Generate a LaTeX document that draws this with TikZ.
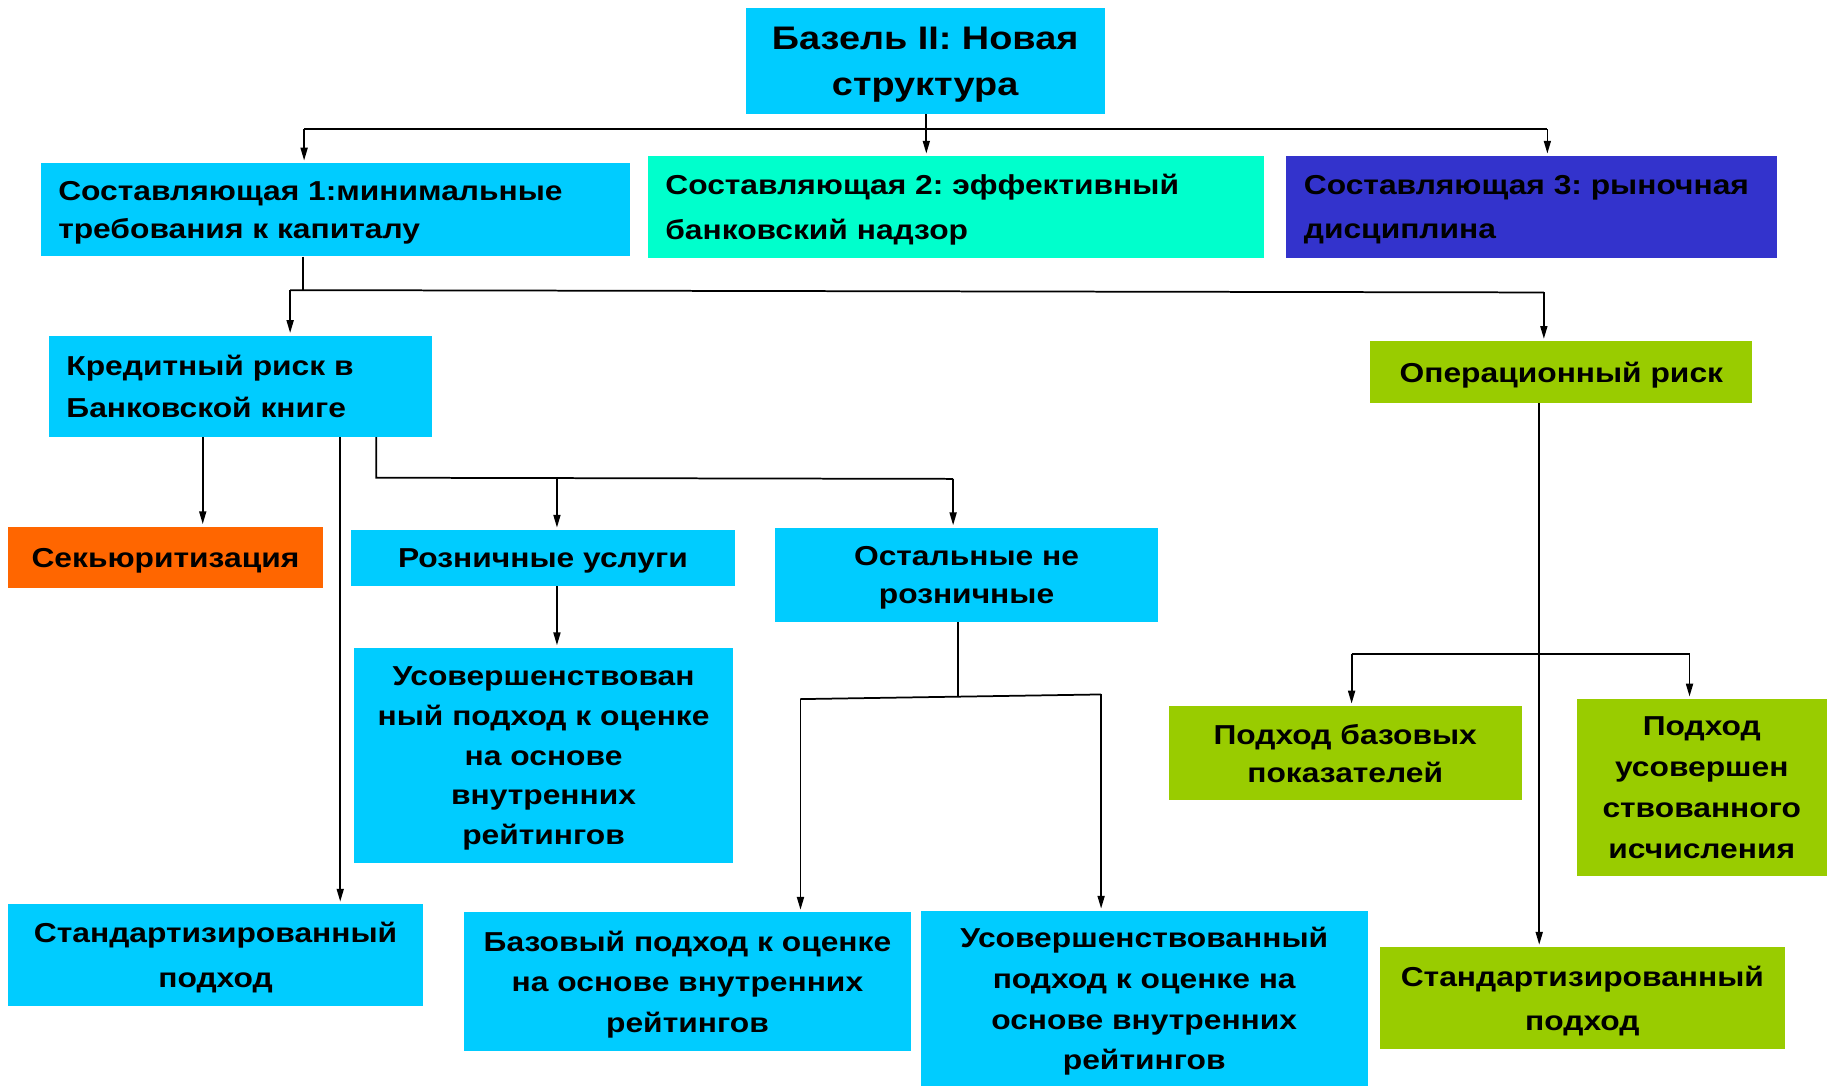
\documentclass[tikz,border=0pt]{standalone}
\usepackage{fontspec}
\setmainfont{Liberation Sans}[FakeStretch=1.16]
\usetikzlibrary{arrows.meta}
\definecolor{cyanbox}{HTML}{00CCFF}
\definecolor{aquabox}{HTML}{00FFCC}
\definecolor{indigobox}{HTML}{3333CC}
\definecolor{limebox}{HTML}{99CC00}
\definecolor{orangebox}{HTML}{FF6600}
\tikzset{
  box/.style={inner sep=0pt, align=center, text=black, anchor=center, text depth=0pt},
  lbox/.style={inner ysep=0pt, inner xsep=15pt, align=left, text=black, anchor=center, text depth=0pt},
  conn/.style={line width=1.5pt, draw=black},
  arr/.style={conn, -{Triangle[length=11pt,width=6pt]}, shorten >=2pt}
}
\newcommand{\fs}[1]{\bfseries\fontsize{23.5}{#1}\selectfont}
\newcommand{\padl}[2]{\makebox[#1][l]{#2}}
\frenchspacing
\begin{document}
\begin{tikzpicture}[x=1pt,y=-1pt]
\useasboundingbox (0,0) rectangle (1568,933);
% top
\node[box, fill=cyanbox, minimum width=308pt, minimum height=91pt, font=\bfseries\fontsize{28}{39}\selectfont] (base) at (794,52.5) {Базель II: Новая\\структура};
\node[lbox, fill=cyanbox, minimum height=80pt, font=\fs{33}] (c1) at (288,180) {\padl{476pt}{Составляющая 1:минимальные}\\требования к капиталу};
\node[lbox, fill=aquabox, minimum height=87pt, font=\fs{38}] (c2) at (820.5,177.5) {\padl{499pt}{Составляющая 2: эффективный}\\банковский надзор};
\node[lbox, fill=indigobox, minimum height=87pt, font=\fs{38}] (c3) at (1314.5,177.5) {\padl{391pt}{Составляющая 3: рыночная}\\дисциплина};
% level 2
\node[lbox, fill=cyanbox, minimum height=87pt, font=\fs{36}] (kr) at (206.5,331.5) {\padl{299pt}{Кредитный риск в}\\Банковской книге};
\node[box, fill=limebox, minimum width=328pt, minimum height=53pt, font=\fs{33}] (op) at (1340,319.5) {Операционный риск};
% level 3
\node[box, fill=orangebox, minimum width=270pt, minimum height=53pt, font=\fs{33}] (sec) at (142,478.5) {Секьюритизация};
\node[box, fill=cyanbox, minimum width=330pt, minimum height=48pt, font=\fs{33}] (roz) at (466,479) {Розничные услуги};
\node[box, fill=cyanbox, minimum width=329pt, minimum height=81pt, font=\fs{33}] (ost) at (829.5,493.5) {Остальные не\\розничные};
% level 4
\node[box, fill=cyanbox, minimum width=325pt, minimum height=185pt, font=\fs{34}] (usa) at (466.5,648.5) {Усовершенствован\\ный подход к оценке\\на основе\\внутренних\\рейтингов};
\node[box, fill=cyanbox, minimum width=356pt, minimum height=87pt, font=\fs{38}] (stl) at (185,819.5) {Стандартизированный\\подход};
\node[box, fill=cyanbox, minimum width=384pt, minimum height=119pt, font=\fs{35}] (baz) at (590,842.5) {Базовый подход к оценке\\на основе внутренних\\рейтингов};
\node[box, fill=cyanbox, minimum width=384pt, minimum height=150pt, font=\fs{35}] (usb) at (982,857) {Усовершенствованный\\подход к оценке на\\основе внутренних\\рейтингов};
\node[box, fill=limebox, minimum width=303pt, minimum height=81pt, font=\fs{33}] (pbp) at (1154.5,646.5) {Подход базовых\\показателей};
\node[box, fill=limebox, minimum width=215pt, minimum height=152pt, font=\fs{35}] (pui) at (1460.5,676) {Подход\\усовершен\\ствованного\\исчисления};
\node[box, fill=limebox, minimum width=348pt, minimum height=87pt, font=\fs{38}] (str) at (1358,856.5) {Стандартизированный\\подход};
% connectors: top bus
\coordinate (t0) at (795,111);
\coordinate (t1) at (261,111);
\coordinate (t2) at (1328,111);
\draw[conn] (t1) -- (t2);
\draw[arr] (t0 |- base.south) -- (t0 |- c2.north);
\draw[arr] (t1) -- (t1 |- c1.north);
\draw[arr] (t2) -- (t2 |- c3.north);
% second bus
\coordinate (s0) at (260,249);
\coordinate (s1) at (249,249);
\coordinate (s2) at (1325,251);
\draw[conn] (s0 |- c1.south) -- (s0);
\draw[conn] (s1) -- (s2);
\draw[arr] (s1) -- (s1 |- kr.north);
\draw[arr] (s2) -- (s2 |- op.north);
% credit risk
\coordinate (k1) at (174,0);
\coordinate (k2) at (292,0);
\coordinate (k3) at (323,410);
\coordinate (k4) at (478,410);
\coordinate (k5) at (818,411);
\draw[arr] (k1 |- kr.south) -- (k1 |- sec.north);
\draw[arr] (k2 |- kr.south) -- (k2 |- stl.north);
\draw[conn] (k3 |- kr.south) -- (k3) -- (k5);
\draw[arr] (k5) -- (k5 |- ost.north);
\draw[arr] (k4) -- (k4 |- roz.north);
\draw[arr] (k4 |- roz.south) -- (k4 |- usa.north);
% others
\coordinate (o0) at (822,598);
\coordinate (o1) at (687,600);
\coordinate (o2) at (945,596);
\draw[conn] (o0 |- ost.south) -- (o0);
\draw[conn] (o1) -- (o2);
\draw[arr] (o1) -- (o1 |- baz.north);
\draw[arr] (o2) -- (o2 |- usb.north);
% operational
\coordinate (p0) at (1321,0);
\coordinate (p1) at (1160,561);
\coordinate (p2) at (1450,561);
\draw[arr] (p0 |- op.south) -- (p0 |- str.north);
\draw[conn] (p1) -- (p2);
\draw[arr] (p1) -- (p1 |- pbp.north);
\draw[arr] (p2) -- (p2 |- pui.north);
\end{tikzpicture}
\end{document}
